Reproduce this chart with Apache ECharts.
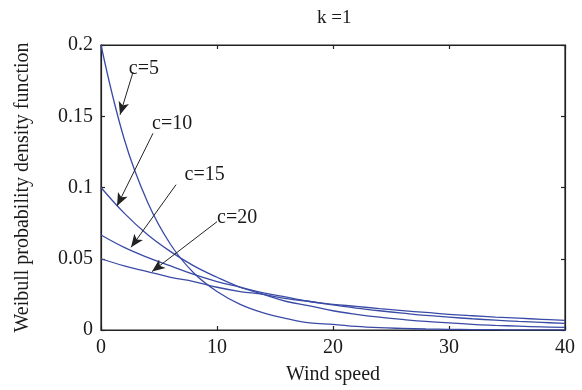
<!DOCTYPE html>
<html>
<head>
<meta charset="utf-8">
<script src="https://cdn.jsdelivr.net/npm/echarts@6/dist/echarts.min.js"></script>
<style>
  html, body { margin: 0; padding: 0; background: #fff; }
  #chart { width: 582px; height: 390px; }
</style>
</head>
<body>
<div id="chart"></div>
<script>
// wind speed samples
const windSpeed = [0, 2, 4, 6, 8, 10, 12, 14, 16, 18, 20, 22, 24, 26, 28, 30, 32, 34, 36, 38, 40]

// density, one array per curve
const c5 = [0.2, 0.134, 0.090, 0.060, 0.040, 0.027, 0.018, 0.012, 0.008, 0.005, 0.004, 0.0025, 0.0016, 0.0011, 0.0007, 0.0005, 0.0003, 0.0002, 0.0001, 0.0001, 0.0001]
const c10 = [0.1, 0.082, 0.067, 0.055, 0.045, 0.037, 0.030, 0.025, 0.020, 0.017, 0.0135, 0.011, 0.009, 0.0074, 0.006, 0.005, 0.004, 0.0033, 0.0027, 0.0022, 0.0018]
const c15 = [0.0667, 0.058, 0.051, 0.045, 0.039, 0.034, 0.030, 0.026, 0.023, 0.020, 0.0176, 0.0154, 0.0135, 0.0118, 0.0102, 0.009, 0.0079, 0.0069, 0.006, 0.0053, 0.0046]
const c20 = [0.05, 0.045, 0.041, 0.037, 0.034, 0.030, 0.027, 0.025, 0.022, 0.020, 0.018, 0.0166, 0.015, 0.0136, 0.0123, 0.011, 0.010, 0.0091, 0.0083, 0.0075, 0.0068]

// annotations: label name, text anchor, arrow start and arrow tip (data units)
const labelNames = ['c=5', 'c=10', 'c=15', 'c=20']
const labelAt = [[2.4, 0.183], [4.4, 0.145], [7.2, 0.109], [10.0, 0.079]]
const arrowFrom = [[2.76, 0.181], [4.48, 0.138], [6.47, 0.102], [10.0, 0.076]]
const arrowTo = [[1.64, 0.151], [1.38, 0.087], [2.59, 0.058], [4.4, 0.041]]

const font = 'Liberation Serif'
const textColor = '#1a1a1a'
const lineColor = '#3a4ba6'

const chart = echarts.init(document.getElementById('chart'))

const pair = (xs, ys) => xs.map((x, i) => [x, ys[i]])

const axisCommon = {
  type: 'value',
  axisLine: { show: true, onZero: false, lineStyle: { color: '#222', width: 1.2 } },
  axisTick: { show: true, inside: true, length: 4, lineStyle: { color: '#222', width: 1.2 } },
  splitLine: { show: false },
}

const curve = (name, ys) => ({
  name,
  type: 'line',
  data: pair(windSpeed, ys),
  showSymbol: false,
  symbol: 'none',
  smooth: 0.4,
  lineStyle: { color: lineColor, width: 1.3 },
  z: 2,
})

chart.setOption({
  animation: false,
  title: {
    text: 'k =1',
    left: 312,
    top: 4,
    textStyle: { fontFamily: font, fontSize: 19, fontWeight: 'normal', color: textColor },
  },
  grid: { left: 101, right: 17, top: 45, bottom: 56, show: true, borderColor: '#222', borderWidth: 1.2 },
  xAxis: [
    {
      ...axisCommon,
      position: 'bottom',
      min: 0,
      max: 40,
      interval: 10,
      name: 'Wind speed',
      nameLocation: 'middle',
      nameGap: 35,
      nameTextStyle: { fontFamily: font, fontSize: 20, color: textColor },
      axisLabel: { fontFamily: font, fontSize: 20, color: textColor, margin: 8 },
    },
    {
      ...axisCommon,
      position: 'top',
      min: 0,
      max: 40,
      interval: 10,
      axisLabel: { show: false },
    },
  ],
  yAxis: [
    {
      ...axisCommon,
      position: 'left',
      min: 0,
      max: 0.2,
      interval: 0.05,
      name: 'Weibull probability density function',
      nameLocation: 'middle',
      nameGap: 68,
      nameTextStyle: { fontFamily: font, fontSize: 20, color: textColor },
      axisLabel: { fontFamily: font, fontSize: 20, color: textColor, margin: 8 },
    },
    {
      ...axisCommon,
      position: 'right',
      min: 0,
      max: 0.2,
      interval: 0.05,
      axisLabel: { show: false },
    },
  ],
  series: [
    curve('c=5', c5),
    curve('c=10', c10),
    curve('c=15', c15),
    curve('c=20', c20),
    {
      name: 'arrows',
      type: 'scatter',
      data: [],
      markLine: {
        silent: true,
        symbol: ['none', 'arrow'],
        symbolSize: [8, 13],
        label: { show: false },
        lineStyle: { color: '#222', width: 1, type: 'solid', opacity: 1 },
        data: arrowFrom.map((p, i) => [{ coord: p }, { coord: arrowTo[i] }]),
      },
    },
    {
      name: 'labels',
      type: 'scatter',
      symbolSize: 0,
      itemStyle: { opacity: 1 },
      data: labelAt.map((p, i) => ({ value: p, name: labelNames[i] })),
      label: {
        show: true,
        position: 'right',
        distance: 0,
        formatter: (p) => p.name,
        fontFamily: font,
        fontSize: 20,
        color: textColor,
        opacity: 1,
      },
      z: 5,
    },
  ],
})
</script>
</body>
</html>
